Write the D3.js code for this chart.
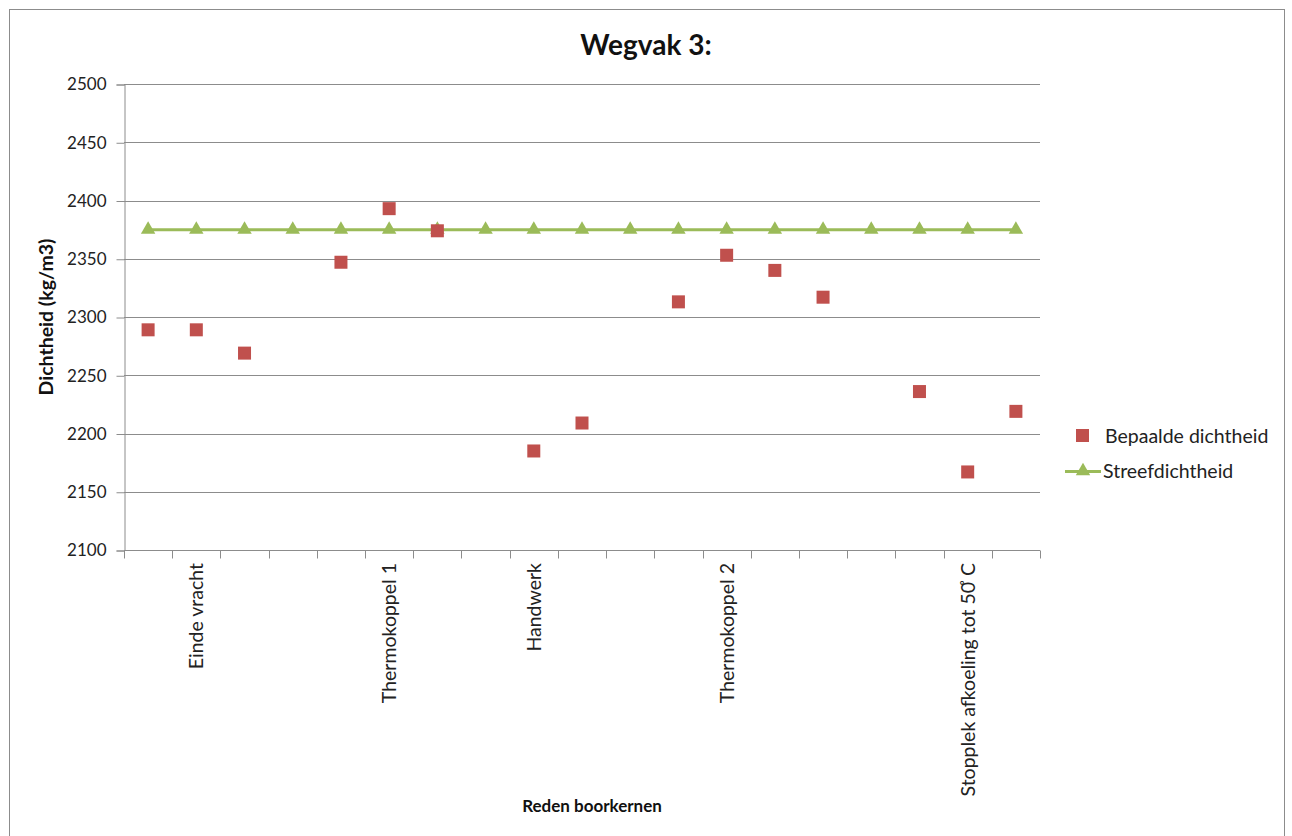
<!DOCTYPE html>
<html>
<head>
<meta charset="utf-8">
<script src="https://cdn.jsdelivr.net/npm/d3@7"></script>
<style>
  html, body { margin: 0; padding: 0; background: #fff; }
  svg { display: block; font-family: Lato, "Open Sans", sans-serif; }
</style>
</head>
<body>
<svg id="chart" width="1292" height="836"></svg>
<script>
// Boorkernen wegvak 3: één positie per kern langs de x-as
const categories = d3.range(19).map(i => "k" + i);
const categoryLabels = ["", "Einde vracht", "", "", "", "Thermokoppel 1", "", "", "Handwerk", "", "", "", "Thermokoppel 2", "", "", "", "", "Stopplek afkoeling tot 50\u02DA C", ""];
// Bepaalde dichtheid (kg/m3); null = geen meting
const bepaald = [2289, 2289, 2269, null, 2347, 2393, 2374, null, 2185, 2209, null, 2313, 2353, 2340, 2317, null, 2236, 2167, 2219];
// Streefdichtheid (kg/m3)
const streef = [2375, 2375, 2375, 2375, 2375, 2375, 2375, 2375, 2375, 2375, 2375, 2375, 2375, 2375, 2375, 2375, 2375, 2375, 2375];
const yTicks = [2100, 2150, 2200, 2250, 2300, 2350, 2400, 2450, 2500];

const svg = d3.select("#chart");
const red = "#c0504d", green = "#9bbb59", grid = "#8c8c8c";
const plot = { left: 124, right: 1040, top: 84, bottom: 550 };

// chart frame
svg.append("rect").attr("x", 9.5).attr("y", 9.5).attr("width", 1275).attr("height", 840)
  .attr("fill", "#fff").attr("stroke", "#8c8c8c").attr("stroke-width", 1);

const x = d3.scaleBand().domain(categories).range([plot.left, plot.right]);
const y = d3.scaleLinear().domain([2100, 2500]).range([plot.bottom, plot.top]);

// horizontal gridlines
svg.append("g").selectAll("line").data(yTicks.slice(1)).join("line")
  .attr("x1", plot.left).attr("x2", plot.right)
  .attr("y1", d => Math.round(y(d)) + 0.5).attr("y2", d => Math.round(y(d)) + 0.5)
  .attr("stroke", grid).attr("stroke-width", 1);

// y axis
const yAxis = svg.append("g").attr("transform", `translate(${plot.left + 0.5},0.5)`)
  .call(d3.axisLeft(y).tickValues(yTicks).tickSize(8).tickPadding(10).tickFormat(d3.format("d")));
yAxis.select(".domain").attr("stroke", grid);
yAxis.selectAll(".tick line").attr("stroke", grid);
yAxis.selectAll(".tick text").attr("fill", "#222").style("font-size", "17px").style("font-family", "Lato, sans-serif");

// x axis: tick marks on the category boundaries
const xAxisG = svg.append("g").attr("transform", `translate(0,${plot.bottom + 0.5})`);
xAxisG.append("line").attr("x1", plot.left).attr("x2", plot.right).attr("stroke", grid);
const bounds = categories.map(c => x(c)).concat([plot.right]);
xAxisG.selectAll("line.tk").data(bounds).join("line").attr("class", "tk")
  .attr("x1", d => Math.round(d) + 0.5).attr("x2", d => Math.round(d) + 0.5)
  .attr("y1", 0).attr("y2", 8).attr("stroke", grid);

// rotated category labels; the degree ring is tucked against the zero
const catText = svg.append("g").selectAll("text").data(categories).join("text")
  .attr("transform", c => `translate(${x(c) + x.bandwidth() / 2 + 7},${plot.bottom + 13}) rotate(-90)`)
  .attr("text-anchor", "end")
  .attr("fill", "#222").style("font-size", "19.5px");
catText.each(function (c, i) {
  const parts = categoryLabels[i].split("\u02DA");
  const t = d3.select(this);
  t.append("tspan").text(parts[0]);
  if (parts.length > 1) {
    t.append("tspan").attr("dx", -5).text("\u02DA");
    t.append("tspan").attr("dx", -2).text(parts[1]);
  }
});

// Streefdichtheid line + triangles
const line = d3.line().x((d, i) => x(categories[i]) + x.bandwidth() / 2).y(d => y(d));
svg.append("path").datum(streef).attr("d", line)
  .attr("fill", "none").attr("stroke", green).attr("stroke-width", 3);
const tri = d3.symbol().type(d3.symbolTriangle).size(90);
svg.append("g").selectAll("path").data(streef).join("path")
  .attr("d", tri)
  .attr("transform", (d, i) => `translate(${x(categories[i]) + x.bandwidth() / 2},${y(d)})`)
  .attr("fill", green);

// Bepaalde dichtheid squares
const sq = 13;
svg.append("g").selectAll("rect")
  .data(bepaald.map((v, i) => ({ v, c: categories[i] })).filter(d => d.v !== null))
  .join("rect")
  .attr("x", d => x(d.c) + x.bandwidth() / 2 - sq / 2)
  .attr("y", d => y(d.v) - sq / 2)
  .attr("width", sq).attr("height", sq)
  .attr("fill", red);

// title
svg.append("text").attr("x", 646).attr("y", 55).attr("text-anchor", "middle")
  .style("font-size", "28px").style("font-weight", "bold").attr("fill", "#111")
  .text("Wegvak 3:");

// axis titles
svg.append("text").attr("transform", `translate(53,${(plot.top + plot.bottom) / 2}) rotate(-90)`)
  .attr("text-anchor", "middle").style("font-size", "19.5px").style("font-weight", "bold").attr("fill", "#111")
  .text("Dichtheid (kg/m3)");
svg.append("text").attr("x", 592).attr("y", 812).attr("text-anchor", "middle")
  .style("font-size", "17px").style("font-weight", "bold").attr("fill", "#111")
  .text("Reden boorkernen");

// legend
const lg = svg.append("g");
lg.append("rect").attr("x", 1076).attr("y", 429).attr("width", 13).attr("height", 13).attr("fill", red);
lg.append("text").attr("x", 1105).attr("y", 443).style("font-size", "19.5px").attr("fill", "#222").text("Bepaalde dichtheid");
lg.append("line").attr("x1", 1065).attr("x2", 1101).attr("y1", 471.5).attr("y2", 471.5)
  .attr("stroke", green).attr("stroke-width", 3);
lg.append("path").attr("d", tri).attr("transform", "translate(1083,471)").attr("fill", green);
lg.append("text").attr("x", 1103).attr("y", 478).style("font-size", "19.5px").attr("fill", "#222").text("Streefdichtheid");
</script>
</body>
</html>
